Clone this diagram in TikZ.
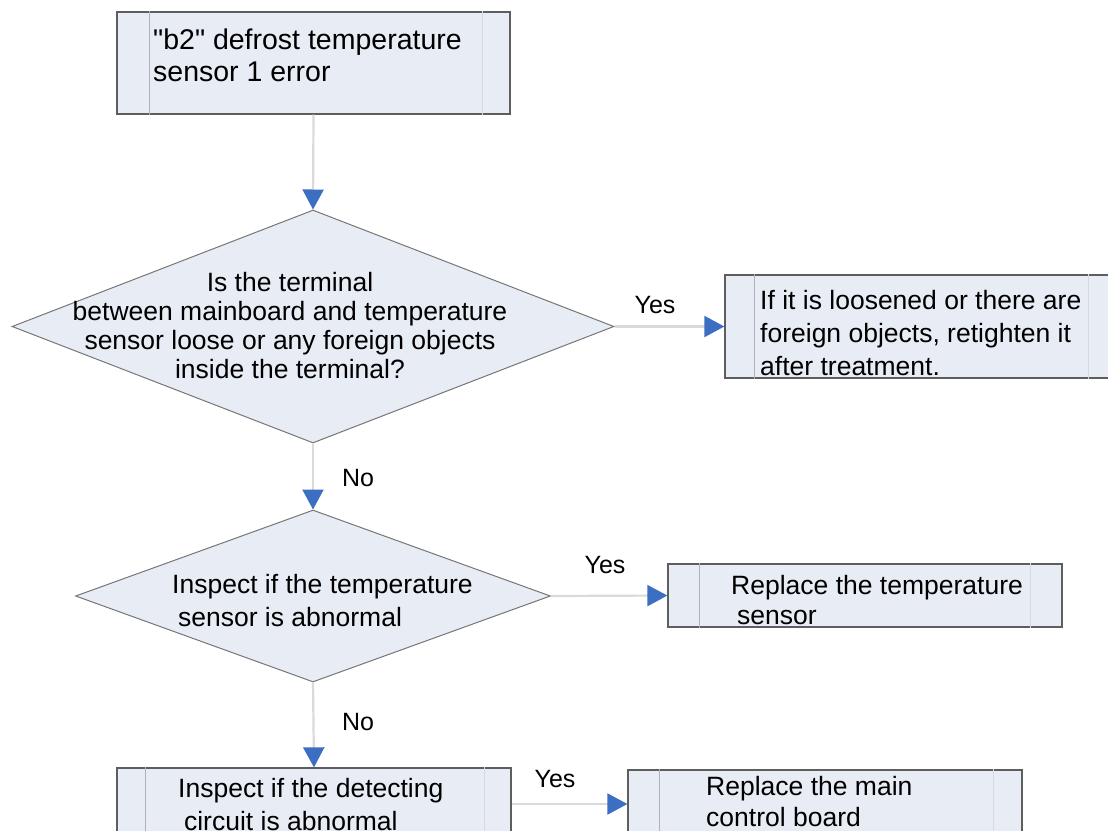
\documentclass[tikz,border=0pt]{standalone}
\usepackage{fontspec}
\setmainfont{Liberation Sans}
\newfontfamily\qfont{Liberation Sans}
\usetikzlibrary{shapes.geometric,arrows.meta}
\definecolor{boxfill}{HTML}{E8ECF5}
\definecolor{boxline}{HTML}{5E5E5E}
\definecolor{innerl}{HTML}{AEB2B8}
\definecolor{innerr}{HTML}{D6D9DF}
\definecolor{conn}{HTML}{DADADA}
\definecolor{tipblue}{HTML}{3C6FC2}
\begin{document}
\begin{tikzpicture}[x=1pt,y=-1pt,
  procbox/.style={draw=boxline, fill=boxfill, line width=1.3pt, rectangle, inner sep=0pt},
  decision/.style={draw=boxline!85, fill=boxfill, line width=1pt, diamond, inner sep=0pt},
  txt/.style={inner sep=0pt, align=left, anchor=base west, font=\fontsize{26.5}{#1}\selectfont},
  ctxt/.style={inner sep=0pt, align=center, anchor=base, font=\fontsize{26.5}{#1}\selectfont},
  lbl/.style={inner sep=0pt, font=\fontsize{25}{28}\selectfont},
  conn/.style={draw=conn, line width=2.2pt, -{Triangle[width=21pt,length=20pt,fill=tipblue,color=tipblue]}},
]
\useasboundingbox (0,0) rectangle (1108,830);
\clip (0,0) rectangle (1108,830);

% boxes
\node[procbox, minimum width=393pt, minimum height=102pt] (b1) at (313.5,63) {};
\node[procbox, minimum width=395pt, minimum height=103pt] (b2) at (922.5,326.5) {};
\node[procbox, minimum width=394pt, minimum height=63pt] (b3) at (865,595.5) {};
\node[procbox, minimum width=394pt, minimum height=72pt] (b4) at (314,804) {};
\node[procbox, minimum width=394pt, minimum height=68pt] (b5) at (825,804) {};

% inner lines of the boxes
\foreach \b/\l/\r in {b1/33/28, b2/30/32, b3/32/32, b4/29/27, b5/32/29}{
  \draw[innerl, line width=1.3pt] ([xshift=\l pt]\b.north west) -- ([xshift=\l pt]\b.south west);
  \draw[innerr, line width=1.3pt] ([xshift=-\r pt]\b.north east) -- ([xshift=-\r pt]\b.south east);
}

% diamonds
\node[decision, minimum width=602pt, minimum height=233pt] (d1) at (313,326.5) {};
\node[decision, minimum width=475pt, minimum height=172pt] (d2) at (313,596) {};

% texts (anchored at the baseline of the last line)
\node[txt=32, font=\qfont\fontsize{28.5}{32}\selectfont] (t1) at (153,81) {"b2" defrost temperature\\sensor 1 error};
\node[txt=33] (t2) at (760,375) {If it is loosened or there are\\foreign objects, retighten it\\after treatment.};
\node[txt=30] (t3) at (731,624) {Replace the temperature\\\hphantom{i}sensor};
\node[txt=33] (t4) at (178,830) {Inspect if the detecting\\\hphantom{i}circuit is abnormal};
\node[txt=31] (t5) at (706,826) {Replace the main\\control board};
\node[ctxt=29] (td1) at (290,378) {Is the terminal\\between mainboard and temperature\\sensor loose or any foreign objects\\inside the terminal?};
\node[txt=33] (td2) at (172,626) {Inspect if the temperature\\\hphantom{i}sensor is abnormal};

% connectors
\draw[conn] (b1.south) -- (d1.north);
\draw[conn] (d1.east) -- (b2.west);
\draw[conn] (d1.south) -- (d2.north);
\draw[conn] (d2.east) -- (b3.west);
\draw[conn] (d2.south) -- (b4.north);
\draw[conn] (b4.east) -- (b5.west);

% labels
\node[lbl] (y1) at (655,305) {Yes};
\node[lbl] (n1) at (358,478) {No};
\node[lbl] (y2) at (605,565) {Yes};
\node[lbl] (n2) at (358,722) {No};
\node[lbl] (y3) at (555,779) {Yes};
\end{tikzpicture}
\end{document}
